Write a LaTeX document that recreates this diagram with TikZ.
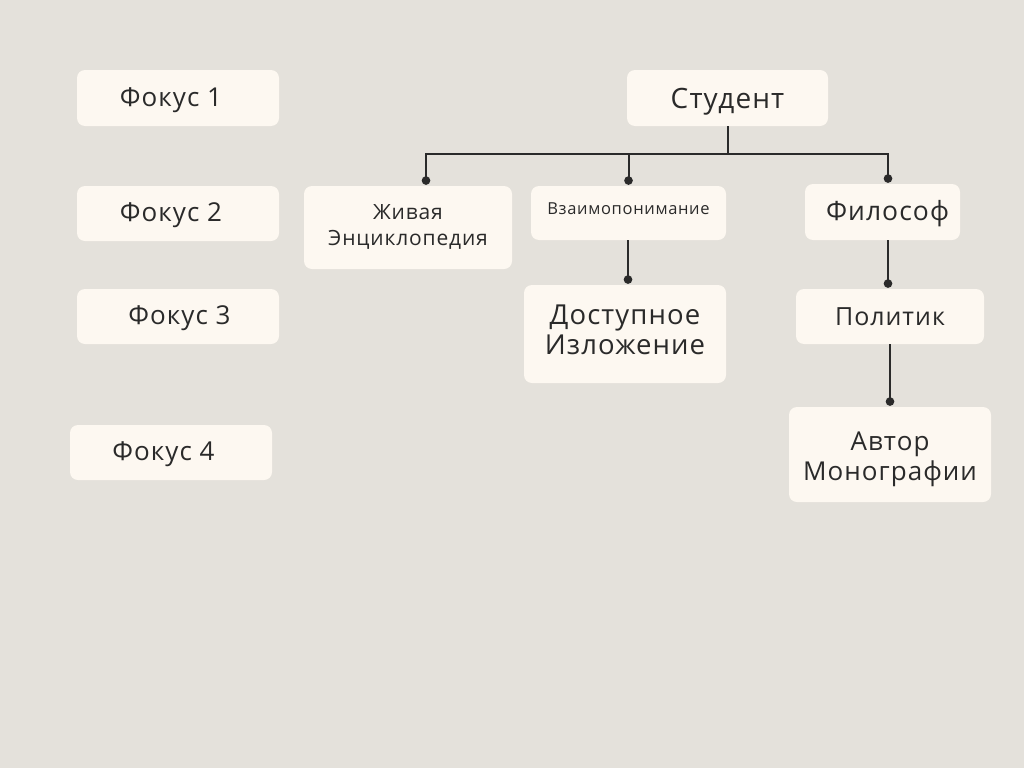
\documentclass[tikz,border=0pt]{standalone}
\usepackage{fontspec}
\setmainfont{Open Sans}[LetterSpace=4]
\usetikzlibrary{arrows.meta,calc}
\definecolor{bg}{HTML}{E4E1DB}
\definecolor{boxfill}{HTML}{FDF8F1}
\definecolor{ink}{HTML}{2A2A2A}
\newcommand{\txt}[2]{\raisebox{#1}[\height][\depth]{\begin{tabular}{@{}c@{}}#2\end{tabular}}}
\newcommand{\rb}[2]{\raisebox{#1}[\height][\depth]{#2}}
\tikzset{
  box/.style={fill=boxfill, rounded corners=8pt, inner sep=0pt, text=ink, align=center},
  fs/.style={font=\fontsize{#1}{#1}\selectfont},
  conn/.style={draw=ink, line width=2pt, -{Circle[length=8.5pt,width=8.5pt]}},
  plain/.style={draw=ink, line width=2pt}
}
\begin{document}
\begin{tikzpicture}[x=1pt,y=-1pt]
\fill[bg] (0,0) rectangle (1024,768);
\useasboundingbox (0,0) rectangle (1024,768);
% left column
\node[box, minimum width=202pt, minimum height=56pt, fs=26] (f1) at (178,98) {\hspace*{-14pt}\rb{-2pt}{Фокус 1}};
\node[box, minimum width=202pt, minimum height=55pt, fs=26] (f2) at (178,213.5) {\hspace*{-14pt}\rb{-2pt}{Фокус 2}};
\node[box, minimum width=202pt, minimum height=55pt, fs=26] (f3) at (178,316.5) {\hspace*{3pt}\rb{-2pt}{Фокус 3}};
\node[box, minimum width=202pt, minimum height=55pt, fs=26] (f4) at (171,452.5) {\hspace*{-15pt}\rb{-2pt}{Фокус 4}};
% tree
\node[box, minimum width=201pt, minimum height=56pt, fs=28] (stud) at (727.5,98) {\rb{-4pt}{Студент}};
\node[box, minimum width=208pt, minimum height=83pt, font=\fontsize{21}{26}\selectfont] (ziv) at (408,227.5) {\txt{0pt}{Живая\\Энциклопедия}};
\node[box, minimum width=195pt, minimum height=54pt, fs=16.5] (vza) at (628.5,213) {\rb{4pt}{Взаимопонимание}};
\node[box, minimum width=155pt, minimum height=56pt, fs=26.5] (fil) at (882.5,212) {\hspace*{10pt}\rb{-2pt}{Философ}};
\node[box, minimum width=202pt, minimum height=98pt, font=\fontsize{27.5}{30}\selectfont] (dos) at (625,334) {\txt{1pt}{Доступное\\Изложение}};
\node[box, minimum width=188pt, minimum height=55pt, fs=25] (pol) at (890,316.5) {Политик};
\node[box, minimum width=202pt, minimum height=95pt, font=\fontsize{26}{30}\selectfont] (avt) at (890,454.5) {\txt{-5pt}{Автор\\Монографии}};
% connectors
\coordinate (bus) at ($(stud.south)+(0,28)$);
\draw[plain] (stud.south) -- (bus);
\draw[conn] (bus) -| ([xshift=18pt,yshift=1pt]ziv.north);
\draw[conn] (bus) -| ([yshift=1pt]vza.north);
\draw[conn] (bus) -| ([xshift=5.5pt,yshift=1pt]fil.north);
\draw[conn] ([xshift=-0.5pt]vza.south) -- ([xshift=3pt,yshift=1pt]dos.north);
\draw[conn] ([xshift=5.5pt]fil.south) -- ([xshift=-2pt,yshift=1pt]pol.north);
\draw[conn] (pol.south) -- ([yshift=1pt]avt.north);
\end{tikzpicture}
\end{document}
